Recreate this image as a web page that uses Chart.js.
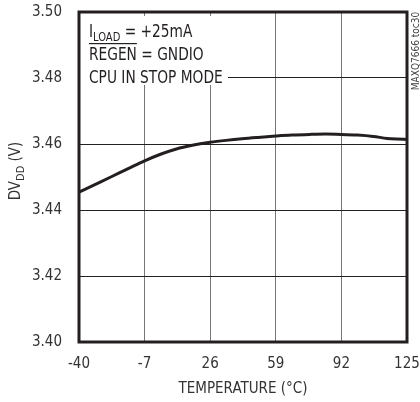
<!DOCTYPE html>
<html>
<head>
<meta charset="utf-8">
<script src="https://cdn.jsdelivr.net/npm/chart.js@4/dist/chart.umd.min.js"></script>
<style>
  html, body { margin: 0; padding: 0; background: #fff; }
  #contenedor { width: 420px; height: 402px; }
</style>
</head>
<body>
<div id="contenedor"><canvas id="myChart" width="420" height="402"></canvas></div>
<script>
// Datos
const temperaturas = [-40, -32, -24, -15, -7, 1, 9, 17, 26, 34, 42, 50, 59, 67, 76, 84, 92, 100, 108, 115, 120, 125]
const dvdd = [3.4454, 3.4477, 3.4500, 3.4526, 3.4549, 3.4569, 3.4585, 3.4596, 3.4605, 3.4611, 3.4616, 3.4620, 3.4624, 3.4627, 3.4629, 3.4630, 3.4629, 3.4627, 3.4623, 3.4617, 3.4615, 3.4614]
const ticksX = [-40, -7, 26, 59, 92, 125]
const ticksY = [3.40, 3.42, 3.44, 3.46, 3.48, 3.50]
const notas = ['= +25mA', 'REGEN = GNDIO', 'CPU IN STOP MODE']

const fuente = "'Liberation Sans Narrow', 'DejaVu Sans Condensed', sans-serif"
const negro = '#231f20'
const estrecho = 0.85 // compresion horizontal para imitar la fuente estrecha

// Plugin para la caja de notas, el titulo del eje Y y el marco
const extras = {
    id: 'extras',
    beforeDatasetsDraw(chart) {
        const ctx = chart.ctx
        const a = chart.chartArea
        ctx.save()
        ctx.fillStyle = '#fff'
        ctx.fillRect(a.left, a.top + 4, 149, 69)
        ctx.translate(89, 0)
        ctx.scale(estrecho, 1)
        ctx.fillStyle = negro
        ctx.textBaseline = 'alphabetic'
        ctx.font = `18px ${fuente}`
        ctx.fillText('I', 0, 37)
        const wI = ctx.measureText('I').width
        ctx.font = `13px ${fuente}`
        ctx.fillText('LOAD', wI, 41)
        const wL = ctx.measureText('LOAD').width
        ctx.font = `18px ${fuente}`
        ctx.fillText(' ' + notas[0], wI + wL, 37)
        ctx.fillText(notas[1], 0, 60)
        const wR = ctx.measureText('REGEN').width
        ctx.fillRect(0, 43, wR, 1.2)
        ctx.fillText(notas[2], 0, 83)
        ctx.restore()
    },
    afterDraw(chart) {
        const ctx = chart.ctx
        const a = chart.chartArea
        ctx.save()
        ctx.strokeStyle = negro
        ctx.lineWidth = 3
        ctx.strokeRect(a.left, a.top, a.right - a.left, a.bottom - a.top)
        // Titulo eje Y con subindice
        ctx.translate(20, 171)
        ctx.rotate(-Math.PI / 2)
        ctx.fillStyle = '#333'
        ctx.textBaseline = 'alphabetic'
        ctx.font = `15px ${fuente}`
        const w1 = ctx.measureText('DV').width
        ctx.font = `11px ${fuente}`
        const w2 = ctx.measureText('DD').width
        ctx.font = `15px ${fuente}`
        const w3 = ctx.measureText(' (V)').width
        let x = -(w1 + w2 + w3) / 2
        ctx.fillText('DV', x, 0)
        ctx.font = `11px ${fuente}`
        ctx.fillText('DD', x + w1, 4)
        ctx.font = `15px ${fuente}`
        ctx.fillText(' (V)', x + w1 + w2, 0)
        ctx.restore()
        // Codigo de la figura a la derecha
        ctx.save()
        ctx.translate(416, 51)
        ctx.rotate(-Math.PI / 2)
        ctx.fillStyle = '#444'
        ctx.font = `10px ${fuente}`
        ctx.textAlign = 'center'
        ctx.textBaseline = 'middle'
        ctx.fillText('MAXQ7666 toc30', 0, 0)
        ctx.restore()
    }
}

const ctx = document.querySelector('#myChart').getContext('2d')
const myChart = new Chart(ctx, {
    type: 'line',
    data: {
        datasets: [{
            data: temperaturas.map((t, i) => ({ x: t, y: dvdd[i] })),
            borderColor: negro,
            borderWidth: 3,
            pointRadius: 0,
            tension: 0.4,
            cubicInterpolationMode: 'monotone'
        }]
    },
    options: {
        responsive: false,
        animation: false,
        layout: { padding: { top: 12, right: 13, left: 0, bottom: 0 } },
        plugins: { legend: { display: false }, tooltip: { enabled: false } },
        scales: {
            x: {
                type: 'linear',
                min: -40,
                max: 125,
                afterBuildTicks: (s) => { s.ticks = ticksX.map(v => ({ value: v })) },
                afterFit: (s) => { s.height = 60; s.paddingLeft = 0; s.paddingRight = 0 },
                grid: { color: '#777', lineWidth: 1, drawTicks: false },
                border: { display: false },
                ticks: { color: '#333', padding: 13, maxRotation: 0, font: { family: fuente, size: 15 } },
                title: {
                    display: true,
                    text: 'TEMPERATURE (°C)',
                    color: '#333',
                    font: { family: fuente, size: 15 },
                    padding: { top: 0, bottom: 4 }
                }
            },
            y: {
                min: 3.40,
                max: 3.50,
                afterBuildTicks: (s) => { s.ticks = ticksY.map(v => ({ value: v })) },
                afterFit: (s) => { s.width = 79; s.paddingTop = 0; s.paddingBottom = 0 },
                grid: { color: '#222', lineWidth: 1, drawTicks: false },
                border: { display: false },
                ticks: { color: '#333', padding: 17, font: { family: fuente, size: 15 }, callback: (v) => v.toFixed(2) }
            }
        }
    },
    plugins: [extras]
})
</script>
</body>
</html>
